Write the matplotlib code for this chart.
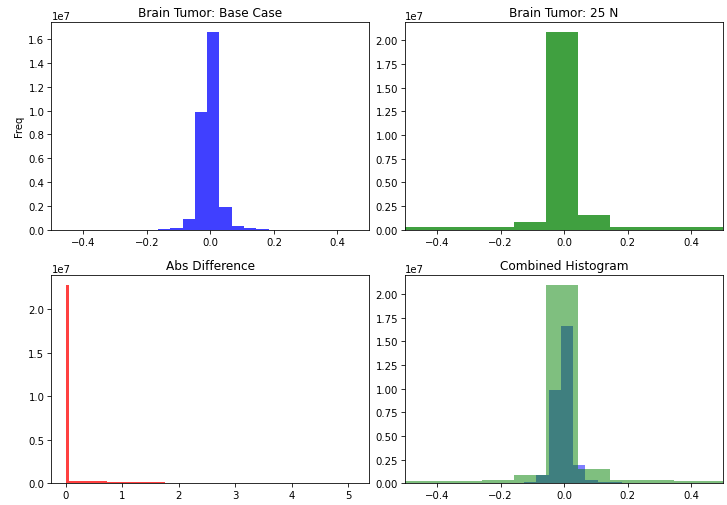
import numpy as np
import matplotlib
matplotlib.use("Agg")
import matplotlib.pyplot as plt

# bin edges and counts
base_edges = [-0.165, -0.1263, -0.0876, -0.0489, -0.0102, 0.0285, 0.0672, 0.1059, 0.1446, 0.1833]
base_counts = [50000, 170000, 890000, 9870000, 16640000, 1930000, 310000, 110000, 100000]

n25_edges = [-0.56, -0.459, -0.358, -0.258, -0.157, -0.056, 0.044, 0.145, 0.246, 0.346, 0.447, 0.548]
n25_counts = [240000, 240000, 240000, 310000, 830000, 20930000, 1520000, 310000, 310000, 240000, 240000]

diff_edges = [0.0, 0.0512, 0.72, 1.18, 1.75, 5.12]
diff_counts = [22750000, 230000, 190000, 110000, 5000]


def centers(edges):
    e = np.array(edges)
    return (e[:-1] + e[1:]) / 2


fig, axes = plt.subplots(2, 2, figsize=(10, 6.96), dpi=72.7)

# Base case
ax = axes[0, 0]
ax.hist(centers(base_edges), bins=base_edges, weights=base_counts, color='blue', alpha=0.75)
ax.set_xlim(-0.5, 0.5)
ax.set_title('Brain Tumor: Base Case')
ax.set_ylabel('Freq')

# 25 N
ax = axes[0, 1]
ax.hist(centers(n25_edges), bins=n25_edges, weights=n25_counts, color='green', alpha=0.75)
ax.set_xlim(-0.5, 0.5)
ax.set_title('Brain Tumor: 25 N')

# abs difference
ax = axes[1, 0]
ax.hist(centers(diff_edges), bins=diff_edges, weights=diff_counts, color='red', alpha=0.75)
ax.set_title('Abs Difference')

# both together
ax = axes[1, 1]
ax.hist(centers(base_edges), bins=base_edges, weights=base_counts, color='blue', alpha=0.5)
ax.hist(centers(n25_edges), bins=n25_edges, weights=n25_counts, color='green', alpha=0.5)
ax.set_xlim(-0.5, 0.5)
ax.set_title('Combined Histogram')

plt.subplots_adjust(left=0.0708, right=0.9945, top=0.9551, bottom=0.0429,
                    wspace=0.113, hspace=0.219)
plt.savefig('out.png')
